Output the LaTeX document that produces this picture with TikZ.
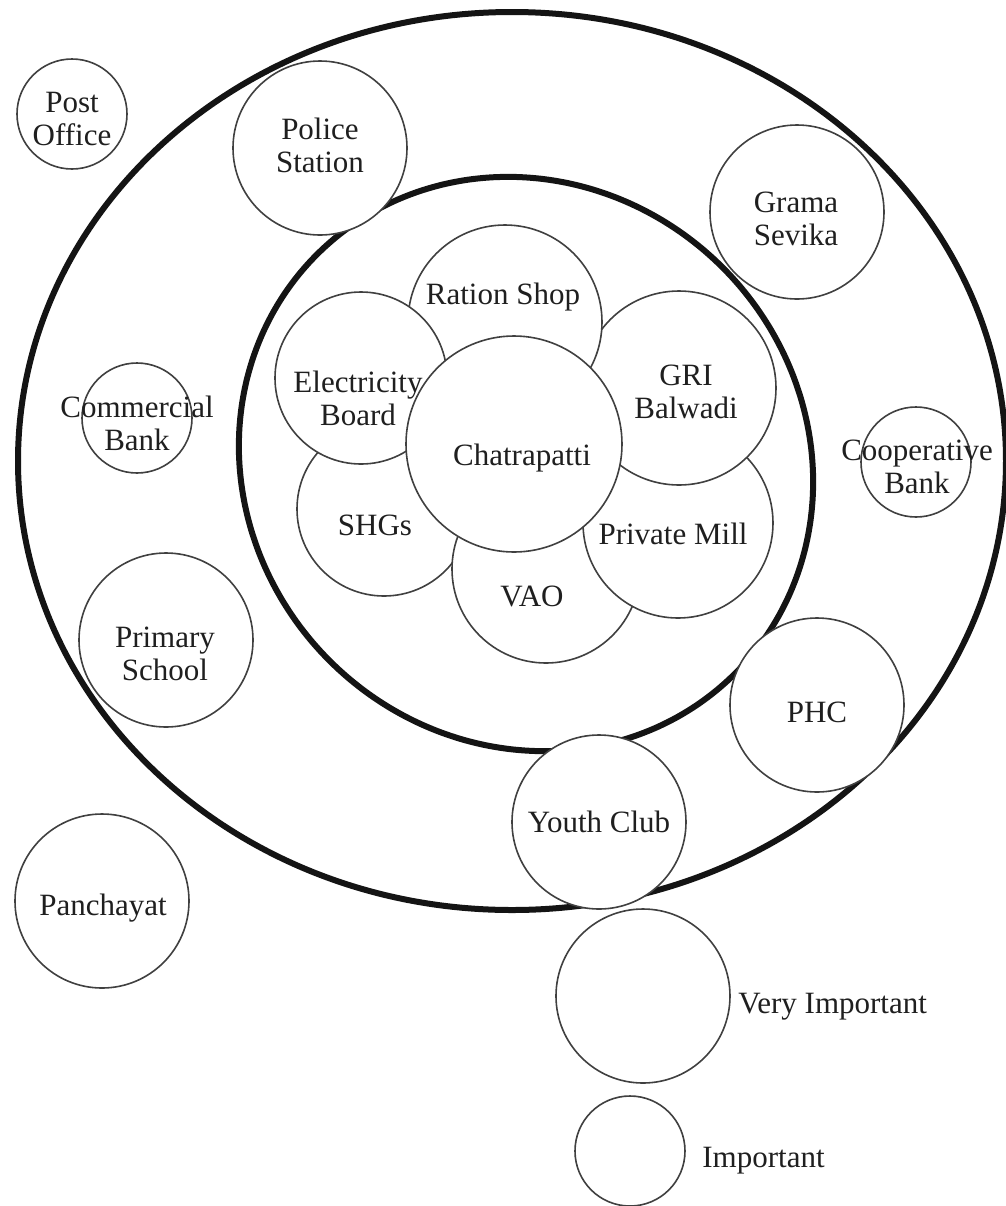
\documentclass[tikz,border=0pt]{standalone}
\usepackage{fontspec}
\setmainfont{Liberation Serif}
\begin{document}
\begin{tikzpicture}[x=0.5pt,y=-0.5pt,
  ring/.style={line width=3pt,draw=black!92,line join=round},
  circ/.style={circle,draw=black!75,line width=0.8pt,fill=white,inner sep=0pt,outer sep=0pt},
  bigc/.style={circ,minimum size=87pt},
  smallc/.style={circ,minimum size=55pt},
  txt/.style={font=\fontsize{15.5}{16.5}\selectfont,align=center,inner sep=0pt,text=black!88}]
\fill[white] (0,0) rectangle (1006,1206);
\useasboundingbox (0,0) rectangle (1006,1206);

% big rings
\draw[ring] (512,461) ellipse [x radius=494, y radius=449];
\draw[ring] plot[smooth cycle,domain=0:357.5,samples=144,variable=\t]
  ({526+0.7071*(296*cos(\t)-278*sin(\t))},{464+0.7071*(296*cos(\t)+278*sin(\t))});

% outer ring circles
\node[smallc] (post)   at (72,114)  {};
\node[bigc]   (police) at (320,148) {};
\node[smallc] (comm)   at (137,418) {};
\node[bigc]   (grama)  at (797,212) {};
\node[smallc] (coop)   at (916,462) {};
\node[bigc]   (prim)   at (166,640) {};
\node[bigc]   (pan)    at (102,901) {};
\node[bigc]   (phc)    at (817,705) {};
\node[bigc]   (youth)  at (599,822) {};
\node[bigc]   (vimp)   at (643,996) {};
\node[smallc] (imp)    at (630,1151) {};

% inner cluster (bottom to top)
\node[circ,minimum size=87pt]  (shg)    at (384,509) {};
\node[circ,minimum size=94pt]  (vao)    at (546,569) {};
\node[circ,minimum size=95pt]  (mill)   at (678,523) {};
\node[circ,minimum size=97pt]  (gri)    at (679,388) {};
\node[circ,minimum size=97pt]  (ration) at (505,322) {};
\node[circ,minimum size=86pt]  (elec)   at (361,378) {};
\node[circ,minimum size=108pt] (chat)   at (514,444) {};

% labels
\node[txt] (postT)   at (72,119)  {Post\\Office};
\node[txt] (policeT) at (320,145) {Police\\Station};
\node[txt] (commT)   at (137,423) {Commercial\\Bank};
\node[txt] (gramaT)  at (796,219) {Grama\\Sevika};
\node[txt] (coopT)   at (917,467) {Cooperative\\Bank};
\node[txt] (primT)   at (165,654) {Primary\\School};
\node[txt] (panT)    at (103,908) {Panchayat};
\node[txt] (phcT)    at (817,712) {PHC};
\node[txt] (youthT)  at (599,822) {Youth Club};
\node[txt] (rationT) at (503,297) {Ration Shop};
\node[txt] (elecT)   at (358,398) {Electricity\\Board};
\node[txt] (griT)    at (686,392) {GRI\\Balwadi};
\node[txt] (chatT)   at (522,458) {Chatrapatti};
\node[txt] (shgT)    at (375,525) {SHGs};
\node[txt] (millT)   at (673,534) {Private Mill};
\node[txt] (vaoT)    at (532,596) {VAO};
\node[txt,anchor=base west] (vimpT) at (738,1013) {Very Important};
\node[txt,anchor=base west] (impT)  at (702,1167) {Important};
\end{tikzpicture}
\end{document}
